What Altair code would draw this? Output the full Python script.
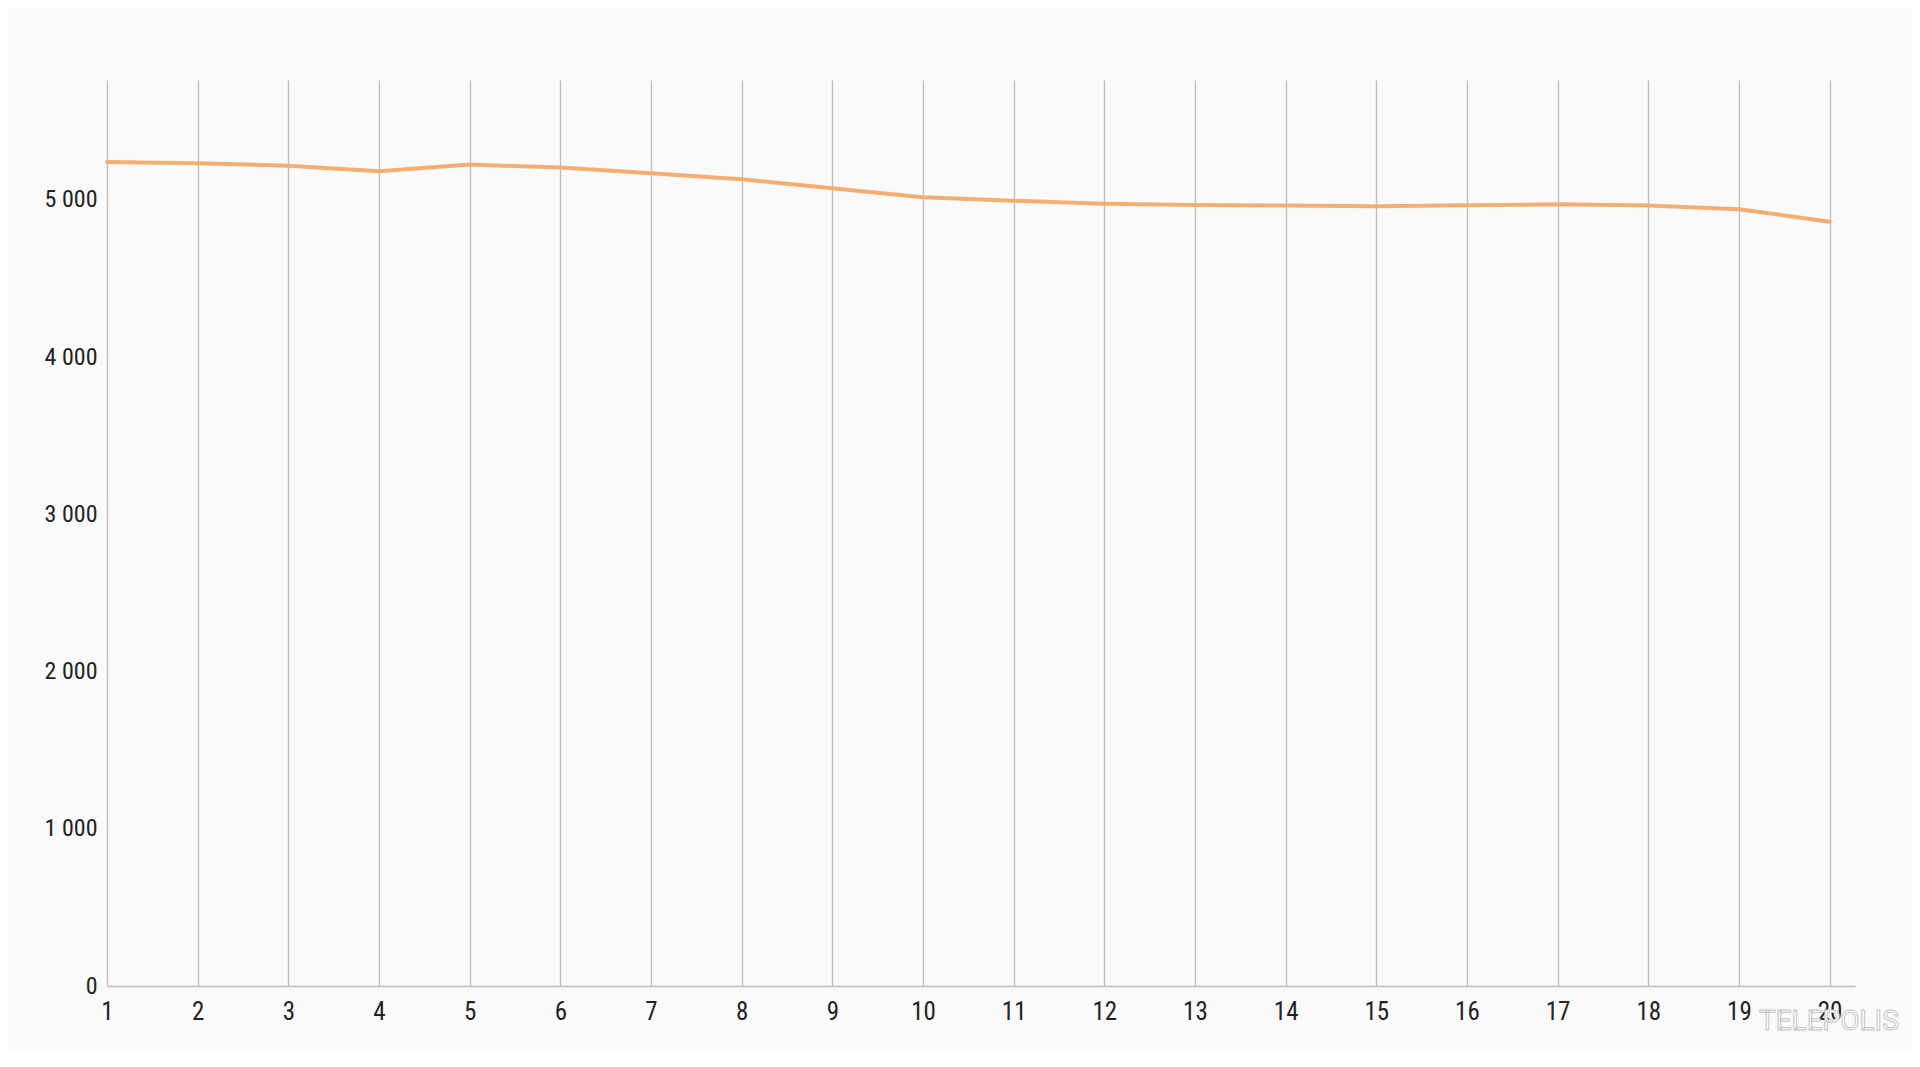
import altair as alt
import pandas as pd

positions = list(range(1, 21))
values = [5242, 5233, 5218, 5183, 5225, 5206, 5170, 5132, 5074, 5017,
          4995, 4976, 4968, 4964, 4960, 4966, 4972, 4964, 4941, 4862]
y_ticks = [0, 1000, 2000, 3000, 4000, 5000]

df = pd.DataFrame({"x": positions, "y": values})

FONT = "Roboto Condensed, Liberation Sans Narrow, Roboto, sans-serif"

base = alt.Chart(df)

line = base.mark_line(color="#f5ae72", strokeWidth=4, strokeCap="round").encode(
    x=alt.X("x:Q",
            scale=alt.Scale(domain=[1, 20.28], nice=False, zero=False),
            axis=alt.Axis(values=positions, title=None, grid=True, gridColor="#bdbdbd",
                          gridWidth=1.3, domainColor="#bdbdbd", domainWidth=1.5, ticks=False,
                          labelFont=FONT, labelFontSize=25, labelColor="#222222",
                          labelPadding=13, format="d", labelFlush=False)),
    y=alt.Y("y:Q",
            scale=alt.Scale(domain=[0, 5763], nice=False),
            axis=alt.Axis(values=y_ticks, title=None, grid=False, domain=False, ticks=False,
                          labelFont=FONT, labelFontSize=24, labelColor="#222222",
                          labelPadding=10,
                          labelExpr="replace(format(datum.value, ','), ',', ' ')")),
)

wm = alt.Chart(pd.DataFrame({"t": ["TELEPOLIS"]})).mark_text(
    font="Roboto, sans-serif", fontSize=28, color="#ffffff", stroke="#c4c4c4", strokeWidth=1,
    align="left", baseline="middle"
).encode(x=alt.value(1652), y=alt.value(942), text="t:N")

chart = (line + wm).properties(
    width=1748, height=906,
    background="#fafafa",
    padding={"left": 99, "top": 72, "right": 57, "bottom": 65},
    autosize=alt.AutoSizeParams(type="none"),
).configure_view(stroke=None)

chart.save("out.html", embed_options={"renderer": "svg", "actions": False})
